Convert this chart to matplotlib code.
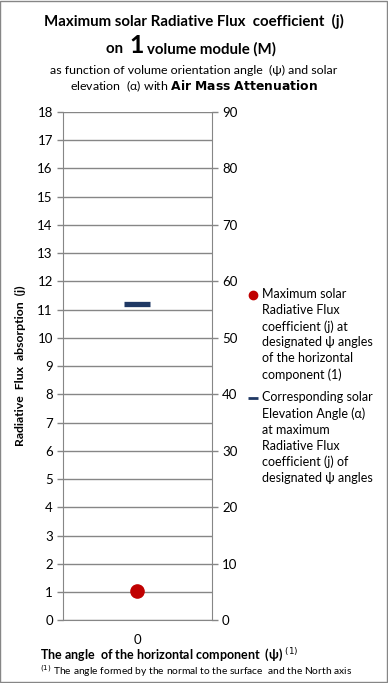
import matplotlib.pyplot as plt
from matplotlib.lines import Line2D
from matplotlib.patches import Rectangle
from matplotlib.legend_handler import HandlerLine2D

plt.rcParams['font.family'] = ['Lato', 'DejaVu Sans']

psi_labels = ['0']
flux_max = [1.04]          # left axis, coefficient (j)
elevation = [56.0]         # right axis, solar elevation angle (deg)

grid_c = '#868686'
red = '#C00000'
navy = '#1F3864'


class TopHandler(HandlerLine2D):
    # put the legend key at the first line of a multi-line label
    def __init__(self, shift, **kw):
        super().__init__(**kw)
        self.shift = shift

    def create_artists(self, legend, orig_handle, xdescent, ydescent, width, height, fontsize, trans):
        arts = super().create_artists(legend, orig_handle, xdescent, ydescent, width, height, fontsize, trans)
        for a in arts:
            a.set_ydata([y + self.shift for y in a.get_ydata()])
        return arts


fig = plt.figure(figsize=(3.88, 6.83), dpi=100)
fig.patches.append(Rectangle((0.001, 0.001), 0.997, 0.997, transform=fig.transFigure,
                             fill=False, edgecolor=grid_c, linewidth=1))

ax = fig.add_axes([0.163, 0.0918, 0.3826, 0.7442])
ax2 = ax.twinx()

x = list(range(len(psi_labels)))
ax.plot(x, flux_max, 'o', color=red, markersize=9.5, zorder=5, clip_on=False)
ax2.plot(x, elevation, '_', color=navy, markersize=19, markeredgewidth=3.8, zorder=5)

ax.set_xlim(-0.5, 0.5)
ax.set_ylim(0, 18)
ax.set_yticks(range(0, 19))
ax2.set_ylim(0, 90)
ax2.set_yticks(range(0, 91, 10))
ax.set_xticks(x)
ax.set_xticklabels(psi_labels)

ax.grid(axis='y', color=grid_c, linewidth=1)
ax.set_axisbelow(True)
for a in (ax, ax2):
    for s in a.spines.values():
        s.set_visible(False)
    a.tick_params(axis='both', labelsize=9.5, colors=grid_c, labelcolor='black', length=4, width=1)
ax.spines['left'].set_visible(True)
ax.spines['left'].set_color(grid_c)
ax.spines['bottom'].set_visible(True)
ax.spines['bottom'].set_color(grid_c)
ax2.spines['right'].set_visible(True)
ax2.spines['right'].set_color(grid_c)
ax.tick_params(axis='x', length=0, pad=10)

ax.set_ylabel('Radiative  Flux  absorption  (j)', fontsize=8.8, fontweight='bold')
ax.yaxis.set_label_coords(-0.25, 0.5)

# title block
fig.text(0.5, 0.968, 'Maximum solar Radiative Flux  coefficient  (j)', ha='center', va='center',
         fontsize=10.8, fontweight='bold')
fig.text(0.273, 0.922, 'on  ', ha='left', va='baseline', fontsize=10.8, fontweight='bold')
fig.text(0.333, 0.922, '1', ha='left', va='baseline', fontsize=18, fontweight='bold')
fig.text(0.378, 0.922, 'volume module (M)', ha='left', va='baseline', fontsize=10.8, fontweight='bold')
fig.text(0.5, 0.897, 'as function of volume orientation angle  (ψ) and solar', ha='center', va='center',
         fontsize=8.9)
fig.text(0.5, 0.873, 'elevation  (α) with $\\bf{Air\\ Mass\\ Attenuation}$', ha='center', va='center',
         fontsize=8.9)

fig.text(0.103, 0.040, 'The angle  of the horizontal component  (ψ) $^{(1)}$', ha='left', va='center',
         fontsize=9, fontweight='bold')
fig.text(0.103, 0.018, '$^{(1)}$ The angle formed by the normal to the surface  and the North axis',
         ha='left', va='center', fontsize=7.4)

# legend
fs = 9
ls = 1.38
shift = 2.5 * ls * fs * 0.93
handles = [Line2D([], [], marker='o', color=red, linestyle='none', markersize=6),
           Line2D([], [], marker='_', color=navy, linestyle='none', markersize=7, markeredgewidth=2)]
labels = ['Maximum solar\nRadiative Flux\ncoefficient (j) at\ndesignated ψ angles\nof the horizontal\ncomponent (1)',
          'Corresponding solar\nElevation Angle (α)\nat maximum\nRadiative Flux\ncoefficient (j) of\ndesignated ψ angles']
leg = fig.legend(handles, labels, loc='upper left', bbox_to_anchor=(0.642, 0.578), frameon=False,
                 fontsize=fs, handlelength=0.6, handletextpad=0.4, labelspacing=0.85,
                 borderaxespad=0, borderpad=0,
                 handler_map={Line2D: TopHandler(shift)})
for t in leg.get_texts():
    t.set_linespacing(ls)

fig.savefig('out.png', dpi=100)
